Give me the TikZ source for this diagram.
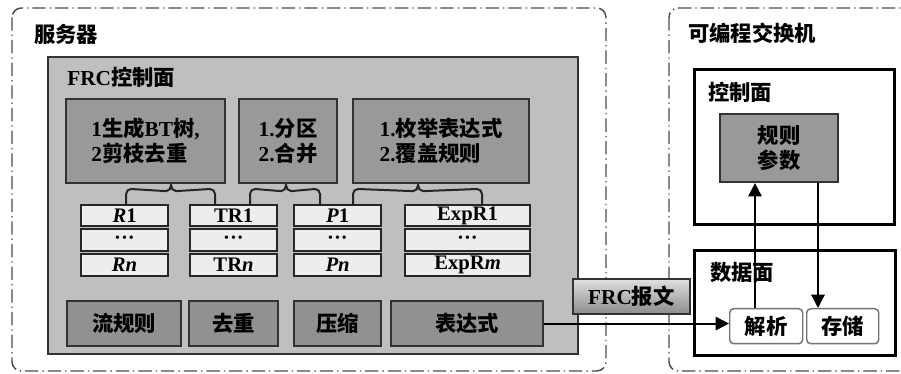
\documentclass[tikz,border=0pt]{standalone}
\usepackage{fontspec}
\setmainfont{Liberation Serif}
\newfontfamily\cjk{Noto Sans CJK SC}
\newcommand\zh[1]{{\cjk\bfseries #1}}
\usetikzlibrary{arrows.meta,calc}
\begin{document}
\begin{tikzpicture}[x=0.75pt,y=-0.75pt,
  font=\fontsize{16}{19}\selectfont\bfseries,
  outer/.style={draw=black!70, line width=1.1pt, dash pattern=on 10pt off 3pt on 1pt off 3pt, rounded corners=7pt},
  panel/.style={draw=black!80, fill=black!25, line width=1.6pt},
  topbox/.style={draw=black!80, fill=black!40, line width=1.6pt},
  rowbox/.style={draw=black!85, fill=black!7, line width=1.6pt, font=\fontsize{15.5}{17}\selectfont\bfseries},
  botbox/.style={draw=black!80, fill=black!43, line width=1.6pt},
  plane/.style={draw=black, fill=white, line width=2.4pt},
  small/.style={draw=black!55, fill=white, line width=1.1pt, rounded corners=3pt},
  conn/.style={line width=1.5pt, draw=black!85},
  arr/.style={line width=1.5pt, draw=black, -{Triangle[length=10pt,width=10pt]}},
  lbl/.style={anchor=west, inner sep=0pt}
]
\newcommand\bx[7]{\node[#6, minimum width={(#4-#2)*0.75pt}, minimum height={(#5-#3)*0.75pt}, anchor=north west, inner sep=0pt, align=left] (#1) at (#2,#3) {#7};}
\newcommand\bracepath[3]{\draw[conn] (#1) -- ++(0,-10) to[out=90,in=180] ++(5,-5) -- ($(#2)+(-5,6)$) to[out=0,in=-90] (#2) to[out=-90,in=180] ($(#2)+(5,6)$) -- ($(#3)+(-5,-15)$) to[out=0,in=90] ++(5,5) -- (#3);}
\useasboundingbox (0,0) rectangle (901,374);
\clip (0,0) rectangle (901,374);
\fill[white] (0,0) rectangle (901,374);

% outer boxes
\draw[outer] (12,8) rectangle (606,371);
\draw[outer] (669,8) rectangle (940,371);
\node[lbl] (srv) at (34,34) {\zh{服务器}};
\node[lbl] (sw) at (688,33) {\zh{可编程交换机}};

% FRC control panel
\bx{frc}{47}{56}{577}{353}{panel}{}
\node[lbl] (frclbl) at (67,77) {FRC\zh{控制面}};

% top boxes
\bx{t1}{65}{98}{224}{182}{topbox}{1\zh{生成}BT\zh{树}, \\ 2\zh{剪枝去重}}
\bx{t2}{238}{98}{336}{182}{topbox}{1.\zh{分区}\\2.\zh{合并}}
\bx{t3}{352}{98}{528}{182}{topbox}{1.\zh{枚举表达式}\\2.\zh{覆盖规则}}

% tables
\bx{R1}{80}{204}{167}{225}{rowbox}{\textit{R}1}
\bx{R2}{80}{228}{167}{250}{rowbox}{···}
\bx{R3}{80}{253}{167}{275}{rowbox}{\textit{Rn}}
\bx{TR1}{189}{204}{276}{225}{rowbox}{TR1}
\bx{TR2}{189}{228}{276}{250}{rowbox}{···}
\bx{TR3}{189}{253}{276}{275}{rowbox}{TR\textit{n}}
\bx{P1}{293}{204}{380}{225}{rowbox}{\textit{P}1}
\bx{P2}{293}{228}{380}{250}{rowbox}{···}
\bx{P3}{293}{253}{380}{275}{rowbox}{\textit{Pn}}
\bx{E1}{404}{204}{529}{225}{rowbox}{ExpR1}
\bx{E2}{404}{228}{529}{250}{rowbox}{···}
\bx{E3}{404}{253}{529}{275}{rowbox}{ExpR\textit{m}}

% braces
\bracepath{$(R1.north)+(1.5,0)$}{$(t1.south)+(25.5,1)$}{$(TR1.north west)+(26,0)$}
\bracepath{$(TR1.north west)+(61,0)$}{$(t2.south)+(-2,1)$}{$(P1.north west)+(27,0)$}
\bracepath{$(P1.north west)+(60,0)$}{$(t3.south)+(-23,1)$}{$(E1.north west)+(78,0)$}

% bottom boxes
\bx{b1}{66}{300}{180}{345}{botbox}{\zh{流规则}}
\bx{b2}{188}{300}{277}{345}{botbox}{\zh{去重}}
\bx{b3}{293}{300}{380}{345}{botbox}{\zh{压缩}}
\bx{b4}{390}{300}{542}{345}{botbox}{\zh{表达式}}

% switch
\bx{cp}{693}{68}{893}{223}{plane}{}
\node[lbl] (cplbl) at (708,92) {\zh{控制面}};
\bx{rp}{719}{113}{837}{181}{topbox}{\zh{规则}\\\zh{参数}}
\bx{dp}{693}{249}{894}{354}{plane}{}
\node[lbl] (dplbl) at (710,272) {\zh{数据面}};
\bx{jx}{729}{308}{802}{343}{small}{\zh{解析}}
\bx{cc}{806}{308}{878}{343}{small}{\zh{存储}}

% FRC message
\node[draw=black!80, line width=1.3pt, top color=black!12, bottom color=black!45, minimum width={117*0.75pt}, minimum height={35*0.75pt}, anchor=north west, inner sep=0pt] (msg) at (572,278) {FRC\zh{报文}};

% arrows
\draw[arr] (b4.east) -- (b4.east -| jx.west);
\draw[arr] (jx.north -| 755,0) -- (rp.south -| 755,0);
\draw[arr] (rp.south -| 818,0) -- (cc.north -| 818,0);
\end{tikzpicture}
\end{document}
